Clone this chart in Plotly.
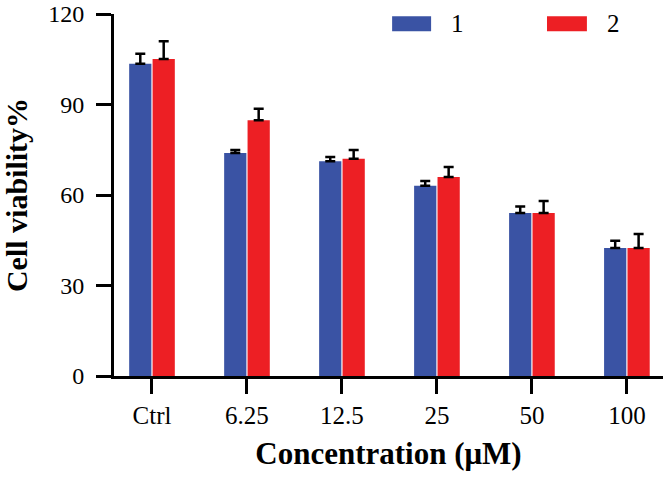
import plotly.graph_objects as go

categories = ["Ctrl", "6.25", "12.5", "25", "50", "100"]
series_names = ["1", "2"]
values_1 = [103.5, 73.9, 71.2, 63.1, 54.0, 42.4]
errors_1 = [3.3, 1.0, 1.4, 1.5, 2.2, 2.4]
values_2 = [105.1, 84.8, 72.0, 66.0, 54.0, 42.4]
errors_2 = [5.9, 3.8, 2.9, 3.3, 4.0, 4.7]
y_ticks = [0, 30, 60, 90, 120]

colors = ["#3A53A4", "#ED1F24"]
FONT = "Liberation Serif, Times New Roman, serif"

fig = go.Figure()
for name, vals, errs, col in zip(series_names, [values_1, values_2], [errors_1, errors_2], colors):
    fig.add_trace(go.Bar(
        x=categories, y=vals, name=name,
        marker=dict(color=col, line=dict(width=0)),
        error_y=dict(type="data", symmetric=False, array=errs,
                     arrayminus=[0] * len(errs), color="black",
                     thickness=2.5, width=5),
        showlegend=False,
    ))

# legend drawn as wide swatches + labels
sw = [(0.5066, 0.5776, 0.6258), (0.7887, 0.8614, 0.9105)]
for (x0, x1, xt), name, col in zip(sw, series_names, colors):
    fig.add_shape(type="rect", xref="paper", yref="paper", x0=x0, x1=x1,
                  y0=0.9526, y1=0.9939, fillcolor=col, line=dict(width=0))
    fig.add_annotation(xref="paper", yref="paper", x=xt, y=0.974, text=name,
                       showarrow=False, font=dict(family=FONT, size=25, color="black"),
                       xanchor="center", yanchor="middle")

fig.update_layout(
    width=669, height=478,
    margin=dict(l=113.5, r=6, t=13.5, b=101.5, autoexpand=False),
    paper_bgcolor="white", plot_bgcolor="white",
    barmode="group", bargap=0.507, bargroupgap=0.05,
    font=dict(family=FONT, color="black"),
)
fig.update_xaxes(
    type="category", range=[-0.4, 5.38],
    showline=True, linewidth=3, linecolor="black",
    ticks="outside", ticklen=15, tickwidth=3, tickcolor="black",
    tickfont=dict(family=FONT, size=25, color="black"),
    showgrid=False, zeroline=False, automargin=False,
    title=dict(text="<b>Concentration (μM)</b>", font=dict(family=FONT, size=31, color="black"), standoff=15),
)
fig.update_yaxes(
    range=[0, 120], tickvals=y_ticks,
    showline=True, linewidth=3, linecolor="black",
    ticks="outside", ticklen=15, tickwidth=3, tickcolor="black",
    tickfont=dict(family=FONT, size=24, color="black"),
    ticklabelstandoff=7,
    showgrid=False, zeroline=False, automargin=False,
    title=dict(text="<b>Cell viability%</b>", font=dict(family=FONT, size=30, color="black"), standoff=30),
)

fig.write_html("out.html", config={"displayModeBar": False},
               post_script="document.body.style.margin='0px';document.body.style.overflow='hidden';")
